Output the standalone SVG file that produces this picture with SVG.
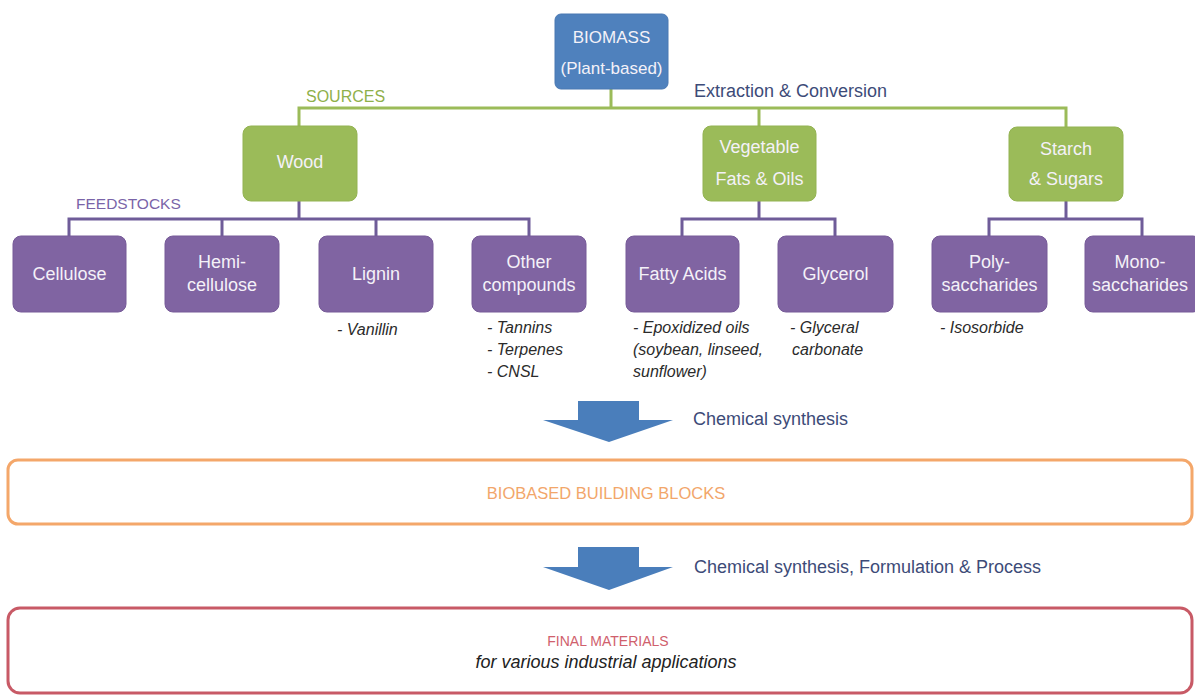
<svg xmlns="http://www.w3.org/2000/svg" width="1195" height="695" viewBox="0 0 1195 695">
<style>
text{font-family:"Liberation Sans",Arial,sans-serif}
.nb{fill:#f4f1f8;font-size:18px;text-anchor:middle}
.blue{fill:#4f81bd;stroke:#4a78b2;stroke-width:1}
.green{fill:#9bbb59;stroke:#93b352;stroke-width:1}
.purple{fill:#8064a2;stroke:#765a98;stroke-width:1}
.gl{stroke:#9bbb59;stroke-width:3;fill:none}
.pl{stroke:#6f5c99;stroke-width:3;fill:none}
.it{fill:#2b2b2b;font-size:16px;font-style:italic}
.lab{fill:#3d4b78;font-size:18px}
.arrow{fill:#4a7ebb}
</style>
<g id="connectors">
<polyline class="gl" points="299,126 299,108 1066,108 1066,127"/>
<line class="gl" x1="611" y1="89" x2="611" y2="108"/>
<line class="gl" x1="759" y1="108" x2="759" y2="126"/>
<polyline class="pl" points="69,236 69,219 529,219 529,236"/>
<line class="pl" x1="299" y1="201" x2="299" y2="219"/>
<line class="pl" x1="222" y1="219" x2="222" y2="236"/>
<line class="pl" x1="376" y1="219" x2="376" y2="236"/>
<polyline class="pl" points="682,236 682,219 835,219 835,236"/>
<line class="pl" x1="759" y1="201" x2="759" y2="219"/>
<polyline class="pl" points="989,236 989,219 1142,219 1142,236"/>
<line class="pl" x1="1066" y1="201" x2="1066" y2="219"/>
</g>
<g id="labels">
<text x="694" y="97" class="lab">Extraction &amp; Conversion</text>
<text x="306" y="102" style="fill:#8fb04a;font-size:16px">SOURCES</text>
<text x="76" y="209" style="fill:#7a64a8;font-size:15.5px">FEEDSTOCKS</text>
</g>
<g id="biomass">
<rect x="555" y="14" width="113" height="75" rx="6" class="blue"/>
<text x="611.5" y="43" class="nb" style="font-size:17px">BIOMASS</text>
<text x="611.5" y="74" class="nb" style="font-size:17px">(Plant-based)</text>
</g>
<g id="wood">
<rect x="243" y="126" width="114" height="75" rx="8" class="green"/>
<text x="300" y="168" class="nb">Wood</text>
</g>
<g id="vegetable">
<rect x="703" y="126" width="113" height="75" rx="8" class="green"/>
<text x="759.5" y="153" class="nb">Vegetable</text>
<text x="759.5" y="185" class="nb">Fats &amp; Oils</text>
</g>
<g id="starch">
<rect x="1009" y="127" width="114" height="74" rx="8" class="green"/>
<text x="1066" y="155" class="nb">Starch</text>
<text x="1066" y="185" class="nb">&amp; Sugars</text>
</g>
<g id="cellulose">
<rect x="13" y="236" width="113" height="76" rx="8" class="purple"/>
<text x="69.5" y="280" class="nb">Cellulose</text>
</g>
<g id="hemicellulose">
<rect x="165" y="236" width="114" height="76" rx="8" class="purple"/>
<text x="222" y="268" class="nb">Hemi-</text>
<text x="222" y="291" class="nb">cellulose</text>
</g>
<g id="lignin">
<rect x="319" y="236" width="114" height="76" rx="8" class="purple"/>
<text x="376" y="280" class="nb">Lignin</text>
<text x="337" y="335" class="it">- Vanillin</text>
</g>
<g id="other">
<rect x="472" y="236" width="114" height="76" rx="8" class="purple"/>
<text x="529" y="268" class="nb">Other</text>
<text x="529" y="291" class="nb">compounds</text>
<text x="487" y="333" class="it">- Tannins</text>
<text x="487" y="355" class="it">- Terpenes</text>
<text x="487" y="377" class="it">- CNSL</text>
</g>
<g id="fatty">
<rect x="626" y="236" width="113" height="76" rx="8" class="purple"/>
<text x="682.5" y="280" class="nb">Fatty Acids</text>
<text x="633" y="333" class="it">- Epoxidized oils</text>
<text x="633" y="355" class="it">(soybean, linseed,</text>
<text x="633" y="377" class="it">sunflower)</text>
</g>
<g id="glycerol">
<rect x="778" y="236" width="115" height="76" rx="8" class="purple"/>
<text x="835.5" y="280" class="nb">Glycerol</text>
<text x="790" y="333" class="it">- Glyceral</text>
<text x="792" y="355" class="it">carbonate</text>
</g>
<g id="poly">
<rect x="932" y="236" width="115" height="76" rx="8" class="purple"/>
<text x="989.5" y="268" class="nb">Poly-</text>
<text x="989.5" y="291" class="nb">saccharides</text>
<text x="940" y="333" class="it">- Isosorbide</text>
</g>
<g id="mono">
<rect x="1085" y="236" width="116" height="76" rx="8" class="purple"/>
<text x="1140" y="268" class="nb">Mono-</text>
<text x="1140" y="291" class="nb">saccharides</text>
</g>
<g id="arrow1">
<polygon class="arrow" points="578,401 639,401 639,420 673,420 609,442 543,420 578,420"/>
<text x="693" y="425" class="lab">Chemical synthesis</text>
</g>
<g id="building-blocks">
<rect x="8" y="460" width="1184" height="64" rx="10" fill="#ffffff" stroke="#f4a76a" stroke-width="3"/>
<text x="606" y="499" text-anchor="middle" style="fill:#f2a66a;font-size:16.5px">BIOBASED BUILDING BLOCKS</text>
</g>
<g id="arrow2">
<polygon class="arrow" points="578,547 639,547 639,567 673,567 609,590 543,567 578,567"/>
<text x="694" y="573" class="lab">Chemical synthesis, Formulation &amp; Process</text>
</g>
<g id="final-materials">
<rect x="8" y="608" width="1184" height="85" rx="12" fill="#ffffff" stroke="#c85a66" stroke-width="3"/>
<text x="608" y="646" text-anchor="middle" style="fill:#d0606c;font-size:14px">FINAL MATERIALS</text>
<text x="606" y="668" text-anchor="middle" style="fill:#222;font-size:18px;font-style:italic">for various industrial applications</text>
</g>
</svg>
